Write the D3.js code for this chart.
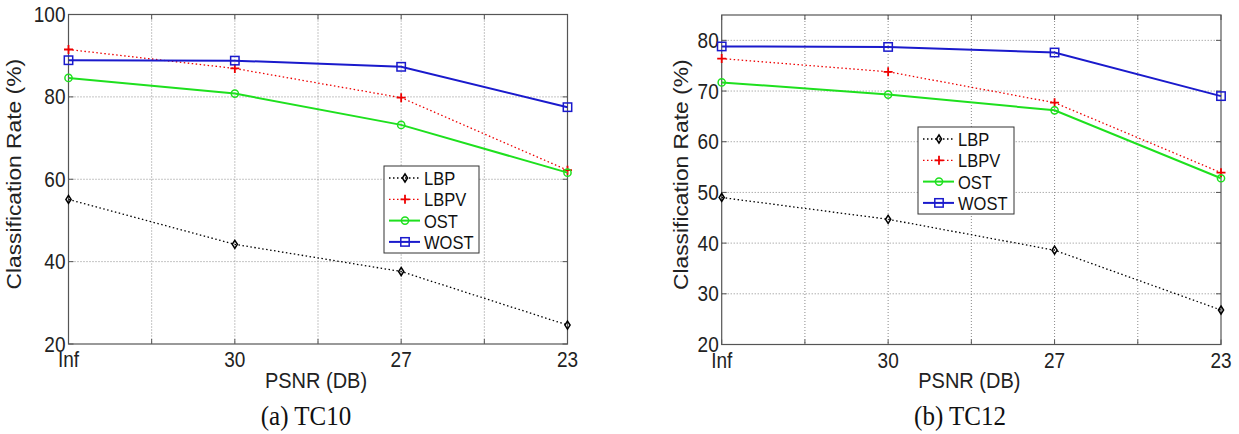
<!DOCTYPE html>
<html>
<head>
<meta charset="utf-8">
<script src="https://cdn.jsdelivr.net/npm/d3@7"></script>
<style>
  html, body { margin: 0; padding: 0; background: #fff; }
  svg { display: block; font-family: Arial, "Liberation Sans", Helvetica, sans-serif; }
</style>
</head>
<body>
<svg id="fig" width="1239" height="434"></svg>
<script>
// x categories (PSNR levels)
const psnrLabels = ['Inf', '30', '27', '23']
const methods = ['LBP', 'LBPV', 'OST', 'WOST']

// TC10 classification rates (%)
const tc10LBP = [55.1, 44.2, 37.6, 24.6]
const tc10LBPV = [91.5, 86.9, 79.8, 62.2]
const tc10OST = [84.6, 80.8, 73.2, 61.6]
const tc10WOST = [88.9, 88.8, 87.3, 77.5]

// TC12 classification rates (%)
const tc12LBP = [49.0, 44.7, 38.6, 26.8]
const tc12LBPV = [76.4, 73.8, 67.7, 53.9]
const tc12OST = [71.7, 69.3, 66.2, 52.8]
const tc12WOST = [78.8, 78.7, 77.6, 69.0]

const tc10Ticks = [20, 40, 60, 80, 100]
const tc12Ticks = [20, 30, 40, 50, 60, 70, 80]

// styles per method
const style = {
    LBP: { color: '#000', width: 1.3, dash: '1.5,2.5', marker: 'diamond' },
    LBPV: { color: '#e00', width: 1.3, dash: '1.5,2.5', marker: 'plus' },
    OST: { color: '#1ee01e', width: 2, dash: null, marker: 'circle' },
    WOST: { color: '#1a1acc', width: 2, dash: null, marker: 'square' }
}

// the source picture is a little stretched vertically
const stretch = 1.14

const svg = d3.select('#fig')

const drawMarker = (sel, kind, color) => {
    if (kind === 'diamond') {
        sel.append('path').attr('d', 'M0,-4L2.6,0L0,4L-2.6,0Z')
            .attr('fill', 'none').attr('stroke', color).attr('stroke-width', 1.5)
    } else if (kind === 'plus') {
        sel.append('path').attr('d', 'M-4.5,0H4.5M0,-4.5V4.5')
            .attr('stroke', color).attr('stroke-width', 1.8)
    } else if (kind === 'circle') {
        sel.append('circle').attr('r', 3.6)
            .attr('fill', 'none').attr('stroke', color).attr('stroke-width', 1.5)
    } else {
        sel.append('rect').attr('x', -4.2).attr('y', -4.2).attr('width', 8.4).attr('height', 8.4)
            .attr('fill', 'none').attr('stroke', color).attr('stroke-width', 1.5)
    }
}

const label = (parent, px, py, txt, size, anchor) =>
    parent.append('text')
        .attr('transform', `translate(${px},${py}) scale(1,${stretch})`)
        .attr('text-anchor', anchor)
        .attr('font-size', size)
        .attr('fill', '#222')
        .text(txt)

const createChart = (cfg) => {
    const x = d3.scaleLinear().domain([1, 4]).range([cfg.left, cfg.right])
    const y = d3.scaleLinear().domain(cfg.yDomain).range([cfg.bottom, cfg.top])
    const g = svg.append('g')

    const xTicks = d3.range(1, 4.01, 0.5)

    // grid
    g.append('g').selectAll('line')
        .data(xTicks.slice(1, -1))
        .join('line')
        .attr('x1', (d) => x(d)).attr('x2', (d) => x(d))
        .attr('y1', cfg.top).attr('y2', cfg.bottom)
        .attr('stroke', '#8a8a8a').attr('stroke-width', 1).attr('stroke-dasharray', '1,2')
    g.append('g').selectAll('line')
        .data(cfg.yTicks.filter((d) => y(d) > cfg.top + 1 && y(d) < cfg.bottom - 1))
        .join('line')
        .attr('x1', cfg.left).attr('x2', cfg.right)
        .attr('y1', (d) => y(d)).attr('y2', (d) => y(d))
        .attr('stroke', '#8a8a8a').attr('stroke-width', 1).attr('stroke-dasharray', '1,2')

    // frame
    g.append('rect')
        .attr('x', cfg.left).attr('y', cfg.top)
        .attr('width', cfg.right - cfg.left).attr('height', cfg.bottom - cfg.top)
        .attr('fill', 'none').attr('stroke', '#555').attr('stroke-width', 1.2)

    // inward ticks
    const tk = 5
    xTicks.forEach((d) => {
        g.append('line').attr('x1', x(d)).attr('x2', x(d)).attr('y1', cfg.bottom).attr('y2', cfg.bottom - tk)
            .attr('stroke', '#555')
        g.append('line').attr('x1', x(d)).attr('x2', x(d)).attr('y1', cfg.top).attr('y2', cfg.top + tk)
            .attr('stroke', '#555')
    })
    cfg.yTicks.forEach((d) => {
        g.append('line').attr('x1', cfg.left).attr('x2', cfg.left + tk).attr('y1', y(d)).attr('y2', y(d))
            .attr('stroke', '#555')
        g.append('line').attr('x1', cfg.right).attr('x2', cfg.right - tk).attr('y1', y(d)).attr('y2', y(d))
            .attr('stroke', '#555')
    })

    // tick labels
    cfg.yTicks.forEach((d) => label(g, cfg.left - 3, y(d) + 7.5, d, 19, 'end'))
    psnrLabels.forEach((d, i) => label(g, x(i + 1), cfg.bottom + 23, d, 19, 'middle'))

    // axis titles
    label(g, (cfg.left + cfg.right) / 2 - 2, cfg.bottom + 43.5, 'PSNR (DB)', 20, 'middle')
    g.append('text')
        .attr('transform', `translate(${cfg.ylabelX},${(cfg.top + cfg.bottom) / 2 - 5}) scale(1,${stretch}) rotate(-90)`)
        .attr('text-anchor', 'middle')
        .attr('font-size', 20)
        .attr('fill', '#222')
        .text('Classification Rate (%)')

    // series
    const line = d3.line().x((d, i) => x(i + 1)).y((d) => y(d))
    methods.forEach((m, k) => {
        const s = style[m]
        const vals = cfg.series[k]
        g.append('path')
            .attr('d', line(vals))
            .attr('fill', 'none')
            .attr('stroke', s.color)
            .attr('stroke-width', s.width)
            .attr('stroke-dasharray', s.dash)
        vals.forEach((v, i) => {
            const mk = g.append('g').attr('transform', `translate(${x(i + 1)},${y(v)})`)
            drawMarker(mk, s.marker, s.color)
        })
    })

    // legend
    const L = cfg.legend
    const lg = g.append('g').attr('transform', `translate(${L.x},${L.y})`)
    lg.append('rect').attr('width', L.w).attr('height', L.h)
        .attr('fill', '#fff').attr('stroke', '#333').attr('stroke-width', 1)
    methods.forEach((m, k) => {
        const s = style[m]
        const yy = 12 + k * 21.3
        lg.append('line').attr('x1', 5).attr('x2', 36).attr('y1', yy).attr('y2', yy)
            .attr('stroke', s.color).attr('stroke-width', s.width).attr('stroke-dasharray', s.dash)
        drawMarker(lg.append('g').attr('transform', `translate(21,${yy})`), s.marker, s.color)
        label(lg, 40, yy + 7, m, 16.5, 'start').attr('fill', '#111')
    })

    // caption
    g.append('text')
        .attr('transform', `translate(${cfg.captionX},425) scale(1,1.08)`)
        .attr('text-anchor', 'middle')
        .attr('font-family', '"Liberation Serif", "DejaVu Serif", serif')
        .attr('font-size', 25)
        .attr('fill', '#111')
        .text(cfg.caption)
}

createChart({
    left: 68.5, right: 567.5, top: 14.5, bottom: 344,
    yDomain: [20, 100], yTicks: tc10Ticks,
    series: [tc10LBP, tc10LBPV, tc10OST, tc10WOST],
    legend: { x: 384, y: 166, w: 95, h: 87 },
    ylabelX: 21, caption: '(a) TC10', captionX: 306
})

createChart({
    left: 721.7, right: 1221, top: 15, bottom: 344.5,
    yDomain: [20, 85], yTicks: tc12Ticks,
    series: [tc12LBP, tc12LBPV, tc12OST, tc12WOST],
    legend: { x: 918, y: 127, w: 96, h: 87 },
    ylabelX: 688, caption: '(b) TC12', captionX: 960
})
</script>
</body>
</html>
